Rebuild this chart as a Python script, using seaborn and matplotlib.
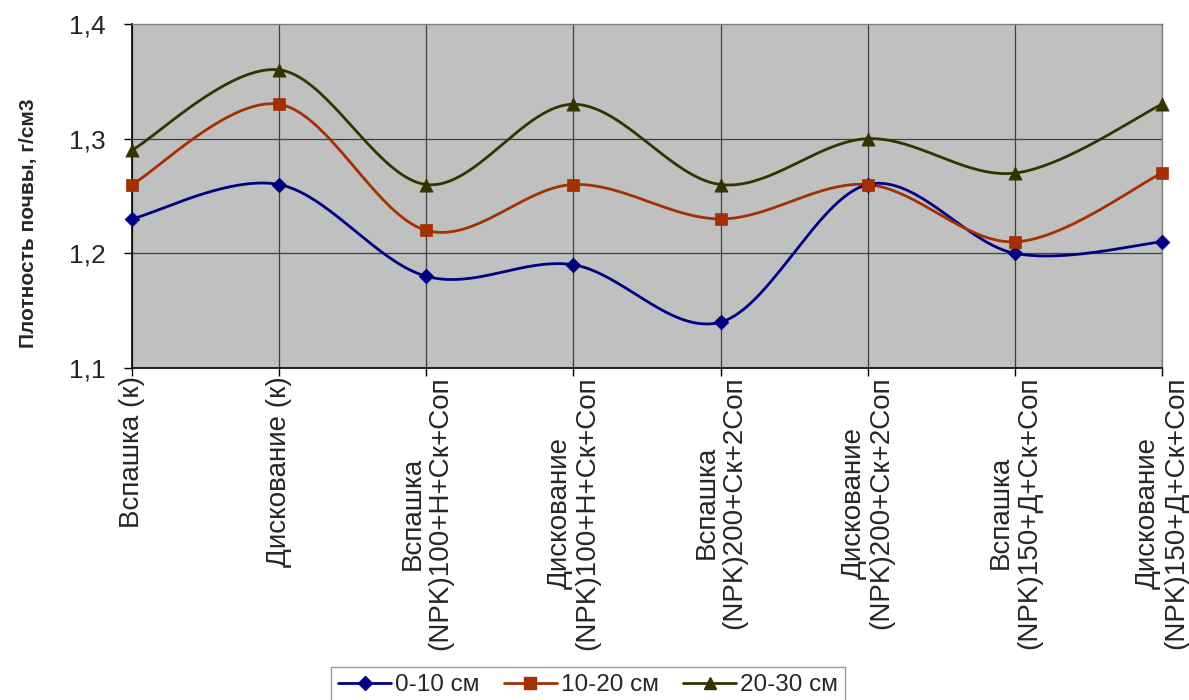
import numpy as np
import pandas as pd
import matplotlib
matplotlib.use("Agg")
import matplotlib.pyplot as plt
from matplotlib.lines import Line2D
import seaborn as sns

categories = [
    "Вспашка (к)",
    "Дискование (к)",
    "Вспашка\n(NPK)100+Н+Ск+Соп",
    "Дискование\n(NPK)100+Н+Ск+Соп",
    "Вспашка\n(NPK)200+Ск+2Соп",
    "Дискование\n(NPK)200+Ск+2Соп",
    "Вспашка\n(NPK)150+Д+Ск+Соп",
    "Дискование\n(NPK)150+Д+Ск+Соп",
]
series_names = ["0-10 см", "10-20 см", "20-30 см"]
s0_10 = [1.23, 1.26, 1.18, 1.19, 1.14, 1.26, 1.20, 1.21]
s10_20 = [1.26, 1.33, 1.22, 1.26, 1.23, 1.26, 1.21, 1.27]
s20_30 = [1.29, 1.36, 1.26, 1.33, 1.26, 1.30, 1.27, 1.33]
y_ticks = [1.1, 1.2, 1.3, 1.4]
y_label = "Плотность почвы, г/см3"

colors = ["#000080", "#A33000", "#333300"]
markers = ["D", "s", "^"]
msizes = [7.5, 9, 9.5]

sns.set_theme(style="white")
plt.rcParams["font.family"] = ["Liberation Sans", "DejaVu Sans"]

fig = plt.figure(figsize=(11.89, 7.0), dpi=100)
ax = fig.add_axes([132 / 1189, 1 - 368 / 700, (1162 - 132) / 1189, (368 - 24) / 700])
ax.set_facecolor("#C0C0C0")


def smooth(xs, ys, n=40):
    P = np.column_stack([xs, ys]).astype(float)
    out = []
    for i in range(len(P) - 1):
        p0 = P[i - 1] if i > 0 else P[i]
        p1 = P[i]
        p2 = P[i + 1]
        p3 = P[i + 2] if i + 2 < len(P) else P[i + 1]
        b1 = p1 + (p2 - p0) / 6.0
        b2 = p2 - (p3 - p1) / 6.0
        t = np.linspace(0, 1, n, endpoint=(i == len(P) - 2))[:, None]
        seg = ((1 - t) ** 3) * p1 + 3 * ((1 - t) ** 2) * t * b1 + 3 * (1 - t) * t ** 2 * b2 + t ** 3 * p2
        out.append(seg)
    return np.vstack(out)


xpos = np.arange(len(categories))
rows = []
pts = []
for name, vals in zip(series_names, [s0_10, s10_20, s20_30]):
    sm = smooth(xpos, vals)
    for k, (x, y) in enumerate(sm):
        rows.append({"x": x, "y": y, "series": name, "order": k})
    for x, y in zip(xpos, vals):
        pts.append({"x": x, "y": y, "series": name})
curve_df = pd.DataFrame(rows)
pts_df = pd.DataFrame(pts)

# grid
for x in xpos:
    ax.axvline(x, color="#404040", lw=0.9, zorder=1)
for y in y_ticks[1:-1]:
    ax.axhline(y, color="#404040", lw=0.9, zorder=1)

pal = dict(zip(series_names, colors))
sns.lineplot(data=curve_df, x="x", y="y", hue="series", palette=pal, sort=False,
             estimator=None, units="series", lw=2.0, legend=False, ax=ax, zorder=3)
for name, m, ms, c in zip(series_names, markers, msizes, colors):
    d = pts_df[pts_df["series"] == name]
    sns.scatterplot(data=d, x="x", y="y", marker=m, s=ms ** 2, color=c,
                    edgecolor=c, linewidth=0.5, legend=False, ax=ax, zorder=4, clip_on=False)

ax.set_xlim(0, len(categories) - 1)
ax.set_ylim(1.1, 1.4)
ax.set_yticks(y_ticks)
ax.set_yticklabels([f"{v:.1f}".replace(".", ",") for v in y_ticks], fontsize=19)
ax.set_xticks(xpos)
ax.set_xticklabels(categories, rotation=90, fontsize=20, ha="center", va="top",
                   multialignment="center", linespacing=1.1)
ax.tick_params(axis="both", which="both", direction="out", length=6, width=1, color="black",
               left=True, bottom=True)
ax.tick_params(axis="y", pad=13)
ax.tick_params(axis="x", pad=0)
ax.set_xlabel("")
ax.set_ylabel(y_label, fontsize=15, fontweight="bold")
ax.yaxis.set_label_coords(-0.091, 0.42)

for side in ["top", "right"]:
    ax.spines[side].set_color("#808080")
    ax.spines[side].set_linewidth(1.0)
for side in ["left", "bottom"]:
    ax.spines[side].set_color("black")
    ax.spines[side].set_linewidth(1.2)

handles = [Line2D([0], [0], color=c, lw=2.0, marker=m, markersize=ms * 0.95,
                  markerfacecolor=c, markeredgecolor=c)
           for c, m, ms in zip(colors, markers, msizes)]
leg = fig.legend(handles, series_names, loc="upper center", bbox_to_anchor=(0.4945, 0.047),
                 ncol=3, fontsize=17.5, frameon=True, fancybox=False, edgecolor="#808080",
                 handlelength=2.2, columnspacing=1.0, handletextpad=0.15, borderpad=0.3,
                 borderaxespad=0.0)
leg.get_frame().set_linewidth(1.0)

fig.savefig("out.png", dpi=100, facecolor="white")
